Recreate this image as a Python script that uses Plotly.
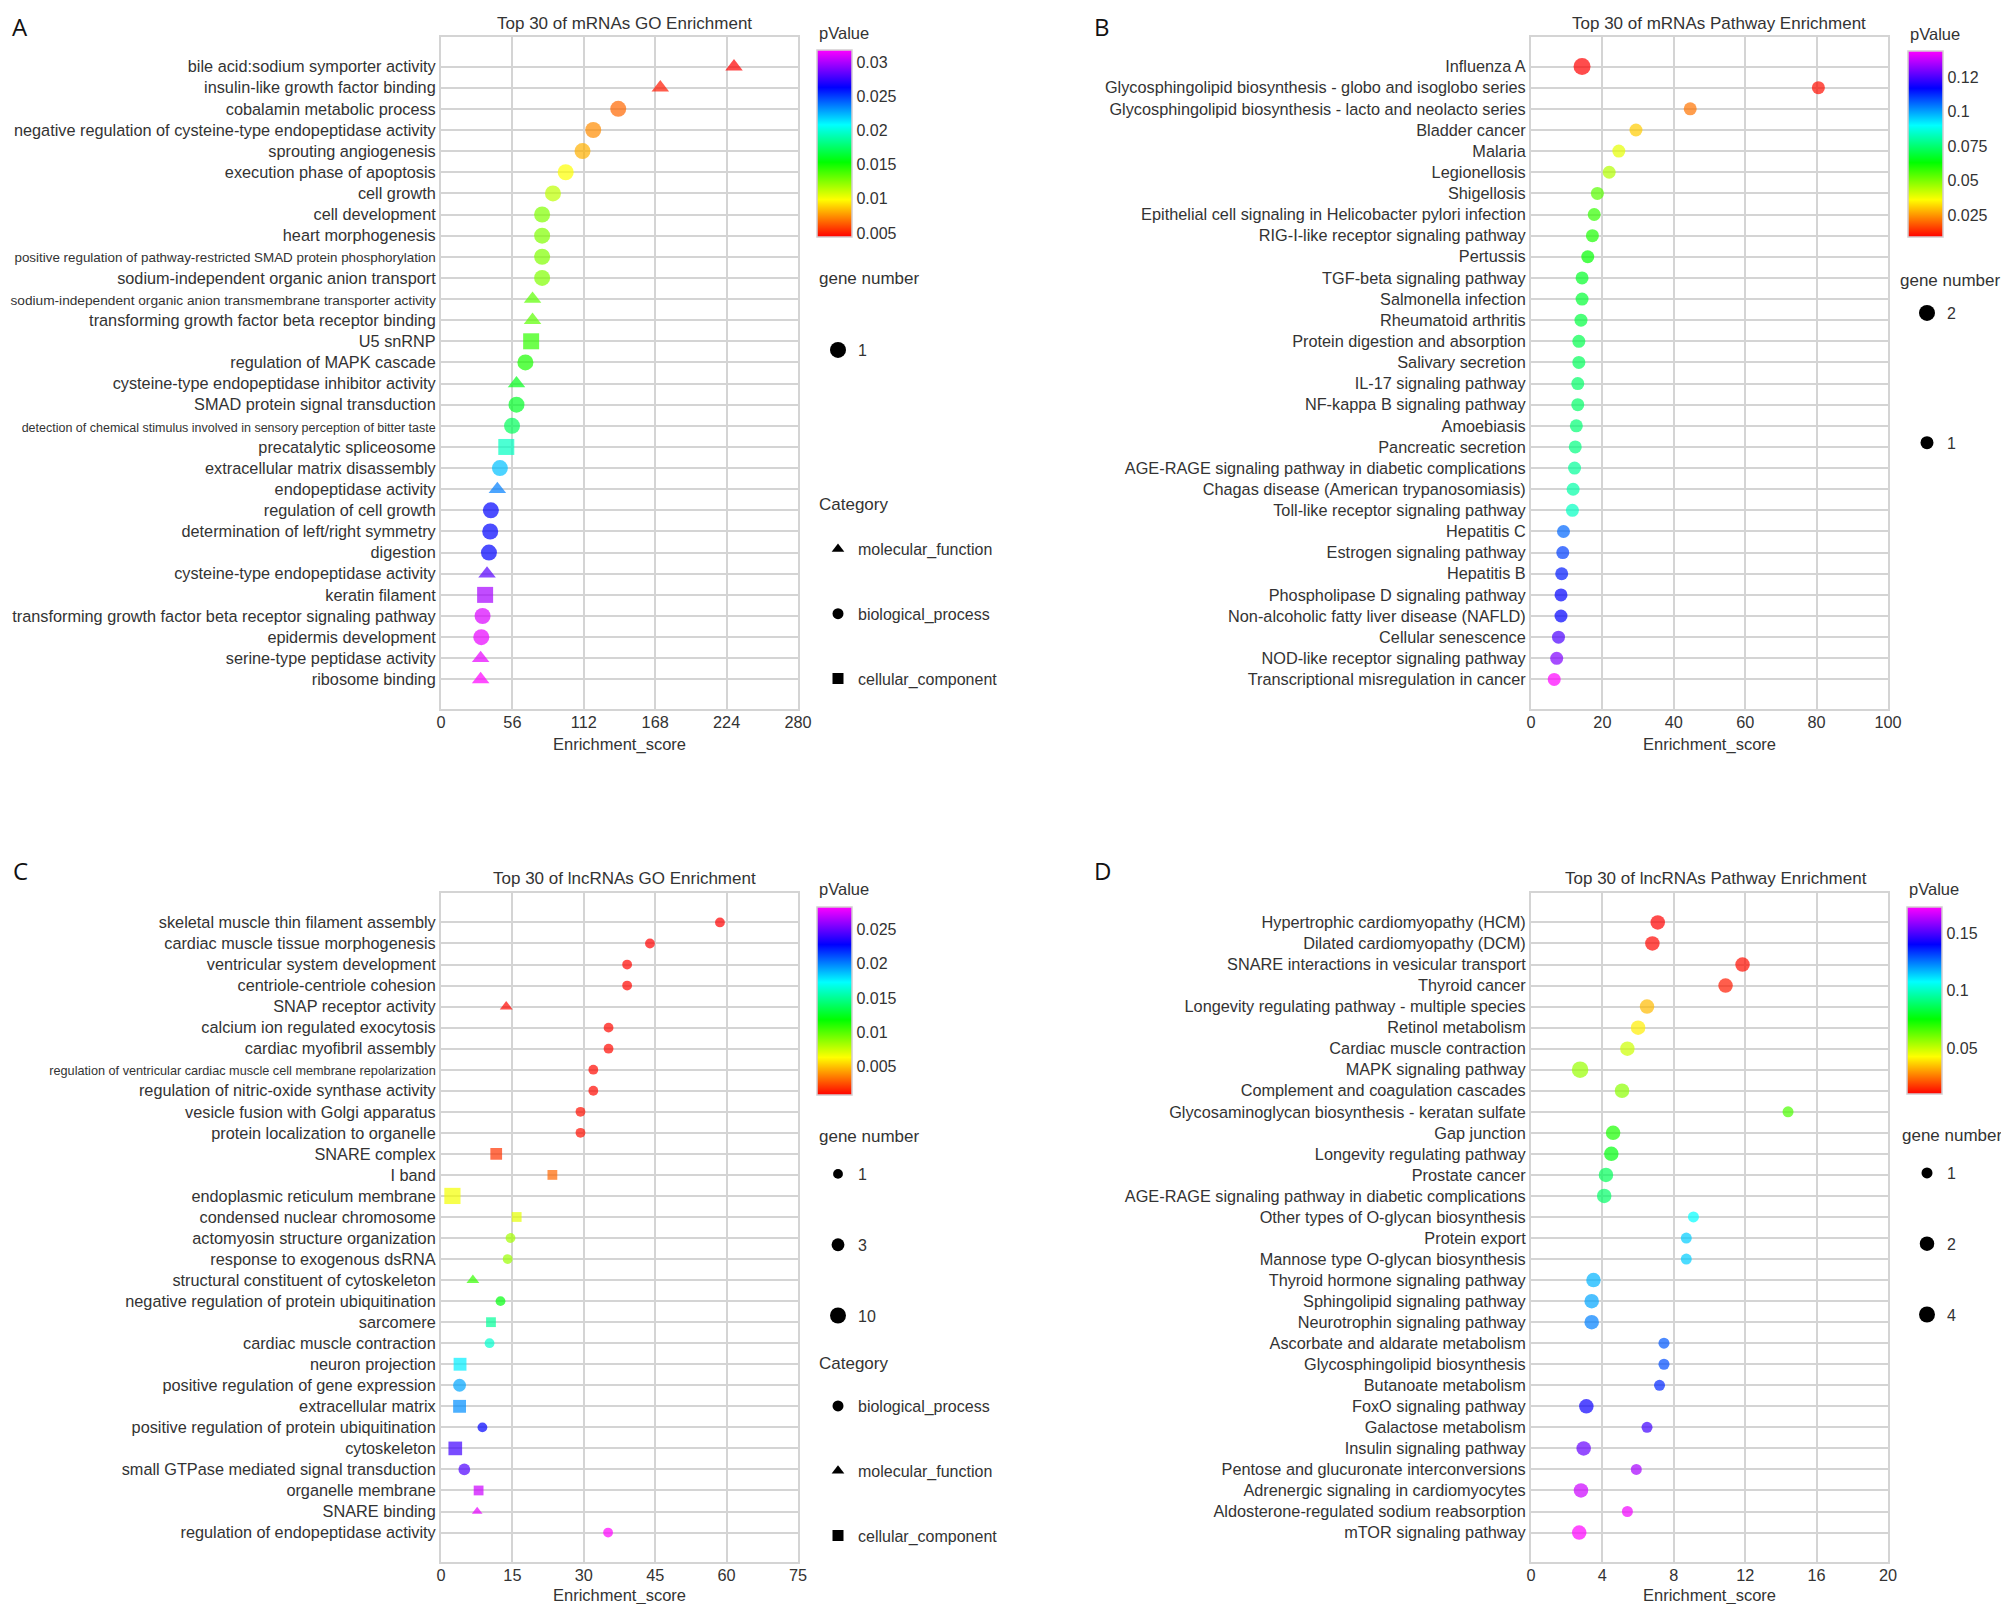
import math
import plotly.graph_objects as go

# ---------------- data ----------------
# A: top 30 of mRNAs GO enrichment
A_TERMS = [
    "bile acid:sodium symporter activity",
    "insulin-like growth factor binding",
    "cobalamin metabolic process",
    "negative regulation of cysteine-type endopeptidase activity",
    "sprouting angiogenesis",
    "execution phase of apoptosis",
    "cell growth",
    "cell development",
    "heart morphogenesis",
    "positive regulation of pathway-restricted SMAD protein phosphorylation",
    "sodium-independent organic anion transport",
    "sodium-independent organic anion transmembrane transporter activity",
    "transforming growth factor beta receptor binding",
    "U5 snRNP",
    "regulation of MAPK cascade",
    "cysteine-type endopeptidase inhibitor activity",
    "SMAD protein signal transduction",
    "detection of chemical stimulus involved in sensory perception of bitter taste",
    "precatalytic spliceosome",
    "extracellular matrix disassembly",
    "endopeptidase activity",
    "regulation of cell growth",
    "determination of left/right symmetry",
    "digestion",
    "cysteine-type endopeptidase activity",
    "keratin filament",
    "transforming growth factor beta receptor signaling pathway",
    "epidermis development",
    "serine-type peptidase activity",
    "ribosome binding",
]
A_CATEGORY = [
    "molecular_function", "molecular_function", "biological_process", "biological_process",
    "biological_process", "biological_process", "biological_process", "biological_process",
    "biological_process", "biological_process", "biological_process", "molecular_function",
    "molecular_function", "cellular_component", "biological_process", "molecular_function",
    "biological_process", "biological_process", "cellular_component", "biological_process",
    "molecular_function", "biological_process", "biological_process", "biological_process",
    "molecular_function", "cellular_component", "biological_process", "biological_process",
    "molecular_function", "molecular_function",
]
A_SCORE = [229.8, 172.0, 139.0, 119.4, 111.0, 97.8, 87.8, 79.3, 79.3, 79.3,
           79.3, 71.8, 71.8, 70.7, 66.2, 59.2, 59.2, 55.7, 51.2, 46.2,
           44.2, 39.1, 38.6, 37.6, 36.1, 34.6, 32.6, 31.6, 31.1, 31.1]
A_PVALUE = [0.0044, 0.0049, 0.0066, 0.0074, 0.0082, 0.0099, 0.0113, 0.0126, 0.0126, 0.0126,
            0.0126, 0.0134, 0.0134, 0.0143, 0.0148, 0.0159, 0.0162, 0.0173, 0.0195, 0.0222,
            0.0236, 0.0263, 0.0263, 0.0263, 0.0282, 0.0299, 0.0310, 0.0313, 0.0313, 0.0318]
A_GENES = [1, 1, 1, 1, 1, 1, 1, 1, 1, 1, 1, 1, 1, 1, 1,
           1, 1, 1, 1, 1, 1, 1, 1, 1, 1, 1, 1, 1, 1, 1]

# B: top 30 of mRNAs pathway enrichment
B_TERMS = [
    "Influenza A",
    "Glycosphingolipid biosynthesis - globo and isoglobo series",
    "Glycosphingolipid biosynthesis - lacto and neolacto series",
    "Bladder cancer",
    "Malaria",
    "Legionellosis",
    "Shigellosis",
    "Epithelial cell signaling in Helicobacter pylori infection",
    "RIG-I-like receptor signaling pathway",
    "Pertussis",
    "TGF-beta signaling pathway",
    "Salmonella infection",
    "Rheumatoid arthritis",
    "Protein digestion and absorption",
    "Salivary secretion",
    "IL-17 signaling pathway",
    "NF-kappa B signaling pathway",
    "Amoebiasis",
    "Pancreatic secretion",
    "AGE-RAGE signaling pathway in diabetic complications",
    "Chagas disease (American trypanosomiasis)",
    "Toll-like receptor signaling pathway",
    "Hepatitis C",
    "Estrogen signaling pathway",
    "Hepatitis B",
    "Phospholipase D signaling pathway",
    "Non-alcoholic fatty liver disease (NAFLD)",
    "Cellular senescence",
    "NOD-like receptor signaling pathway",
    "Transcriptional misregulation in cancer",
]
B_SCORE = [14.3, 80.5, 44.6, 29.4, 24.6, 21.9, 18.6, 17.7, 17.2, 15.9,
           14.3, 14.3, 14.0, 13.4, 13.4, 13.1, 13.1, 12.7, 12.4, 12.2,
           11.8, 11.6, 9.1, 8.9, 8.6, 8.4, 8.4, 7.7, 7.2, 6.5]
B_PVALUE = [0.0090, 0.0104, 0.0212, 0.0306, 0.0387, 0.0441, 0.0536, 0.0576, 0.0603, 0.0630,
            0.0671, 0.0684, 0.0698, 0.0711, 0.0725, 0.0738, 0.0738, 0.0752, 0.0765, 0.0792,
            0.0806, 0.0833, 0.1062, 0.1103, 0.1143, 0.1170, 0.1170, 0.1251, 0.1305, 0.1440]
B_GENES = [2, 1, 1, 1, 1, 1, 1, 1, 1, 1, 1, 1, 1, 1, 1,
           1, 1, 1, 1, 1, 1, 1, 1, 1, 1, 1, 1, 1, 1, 1]

# C: top 30 of lncRNAs GO enrichment
C_TERMS = [
    "skeletal muscle thin filament assembly",
    "cardiac muscle tissue morphogenesis",
    "ventricular system development",
    "centriole-centriole cohesion",
    "SNAP receptor activity",
    "calcium ion regulated exocytosis",
    "cardiac myofibril assembly",
    "regulation of ventricular cardiac muscle cell membrane repolarization",
    "regulation of nitric-oxide synthase activity",
    "vesicle fusion with Golgi apparatus",
    "protein localization to organelle",
    "SNARE complex",
    "I band",
    "endoplasmic reticulum membrane",
    "condensed nuclear chromosome",
    "actomyosin structure organization",
    "response to exogenous dsRNA",
    "structural constituent of cytoskeleton",
    "negative regulation of protein ubiquitination",
    "sarcomere",
    "cardiac muscle contraction",
    "neuron projection",
    "positive regulation of gene expression",
    "extracellular matrix",
    "positive regulation of protein ubiquitination",
    "cytoskeleton",
    "small GTPase mediated signal transduction",
    "organelle membrane",
    "SNARE binding",
    "regulation of endopeptidase activity",
]
C_CATEGORY = [
    "biological_process", "biological_process", "biological_process", "biological_process",
    "molecular_function", "biological_process", "biological_process", "biological_process",
    "biological_process", "biological_process", "biological_process", "cellular_component",
    "cellular_component", "cellular_component", "cellular_component", "biological_process",
    "biological_process", "molecular_function", "biological_process", "cellular_component",
    "biological_process", "cellular_component", "biological_process", "cellular_component",
    "biological_process", "cellular_component", "biological_process", "cellular_component",
    "molecular_function", "biological_process",
]
C_SCORE = [58.6, 43.9, 39.1, 39.1, 13.7, 35.2, 35.2, 32.0, 32.0, 29.3,
           29.3, 11.6, 23.4, 2.4, 15.9, 14.6, 14.0, 6.7, 12.5, 10.5,
           10.2, 4.0, 3.9, 3.9, 8.7, 3.0, 4.9, 7.9, 7.6, 35.1]
C_PVALUE = [0.0009, 0.0009, 0.0010, 0.0010, 0.0010, 0.0011, 0.0011, 0.0011, 0.0011, 0.0012,
            0.0012, 0.0020, 0.0031, 0.0066, 0.0069, 0.0083, 0.0085, 0.0107, 0.0121, 0.0151,
            0.0162, 0.0176, 0.0192, 0.0197, 0.0227, 0.0241, 0.0244, 0.0271, 0.0277, 0.0282]
C_GENES = [1, 1, 1, 1, 2, 1, 1, 1, 1, 1, 1, 2, 1, 10, 1,
           1, 1, 2, 1, 1, 1, 3, 3, 3, 1, 4, 2, 1, 1, 1]

# D: top 30 of lncRNAs pathway enrichment
D_TERMS = [
    "Hypertrophic cardiomyopathy (HCM)",
    "Dilated cardiomyopathy (DCM)",
    "SNARE interactions in vesicular transport",
    "Thyroid cancer",
    "Longevity regulating pathway - multiple species",
    "Retinol metabolism",
    "Cardiac muscle contraction",
    "MAPK signaling pathway",
    "Complement and coagulation cascades",
    "Glycosaminoglycan biosynthesis - keratan sulfate",
    "Gap junction",
    "Longevity regulating pathway",
    "Prostate cancer",
    "AGE-RAGE signaling pathway in diabetic complications",
    "Other types of O-glycan biosynthesis",
    "Protein export",
    "Mannose type O-glycan biosynthesis",
    "Thyroid hormone signaling pathway",
    "Sphingolipid signaling pathway",
    "Neurotrophin signaling pathway",
    "Ascorbate and aldarate metabolism",
    "Glycosphingolipid biosynthesis",
    "Butanoate metabolism",
    "FoxO signaling pathway",
    "Galactose metabolism",
    "Insulin signaling pathway",
    "Pentose and glucuronate interconversions",
    "Adrenergic signaling in cardiomyocytes",
    "Aldosterone-regulated sodium reabsorption",
    "mTOR signaling pathway",
]
D_SCORE = [7.1, 6.8, 11.85, 10.9, 6.5, 6.0, 5.4, 2.75, 5.1, 14.4,
           4.6, 4.5, 4.2, 4.1, 9.1, 8.7, 8.7, 3.5, 3.4, 3.4,
           7.45, 7.45, 7.2, 3.1, 6.5, 2.95, 5.9, 2.8, 5.4, 2.7]
D_PVALUE = [0.0100, 0.0108, 0.0116, 0.0133, 0.0339, 0.0404, 0.0490, 0.0555, 0.0572, 0.0653,
            0.0718, 0.0767, 0.0864, 0.0880, 0.1076, 0.1140, 0.1140, 0.1173, 0.1190, 0.1238,
            0.1287, 0.1303, 0.1352, 0.1417, 0.1482, 0.1531, 0.1612, 0.1661, 0.1710, 0.1726]
D_GENES = [2, 2, 2, 2, 2, 2, 2, 3, 2, 1, 2, 2, 2, 2, 1,
           1, 1, 2, 2, 2, 1, 1, 1, 2, 1, 2, 1, 2, 1, 2]

# colorbar ticks
A_PV_TICKS = [0.005, 0.01, 0.015, 0.02, 0.025, 0.03]
A_PV_TEXT = ["0.005", "0.01", "0.015", "0.02", "0.025", "0.03"]
B_PV_TICKS = [0.025, 0.05, 0.075, 0.1, 0.125]
B_PV_TEXT = ["0.025", "0.05", "0.075", "0.1", "0.12"]
C_PV_TICKS = [0.005, 0.01, 0.015, 0.02, 0.025]
C_PV_TEXT = ["0.005", "0.01", "0.015", "0.02", "0.025"]
D_PV_TICKS = [0.05, 0.1, 0.15]
D_PV_TEXT = ["0.05", "0.1", "0.15"]

# legend entries
A_SIZE_BREAKS = [1]
B_SIZE_BREAKS = [2, 1]
C_SIZE_BREAKS = [1, 3, 10]
D_SIZE_BREAKS = [1, 2, 4]
A_CAT_ORDER = ["molecular_function", "biological_process", "cellular_component"]
C_CAT_ORDER = ["biological_process", "molecular_function", "cellular_component"]

# ---------------- style ----------------
W, H, OFF = 1993, 1596, 8   # figure size; the page body adds an 8px margin


def fx(p):
    return (p - OFF) / W


def fy(p):
    return 1 - (p - OFF) / H


RAINBOW = [[0, "#FF0000"], [0.2, "#FFFF00"], [0.4, "#00FF00"],
           [0.6, "#00FFFF"], [0.8, "#0000FF"], [1, "#FF00FF"]]
SYMBOLS = {"molecular_function": "triangle-up", "biological_process": "circle",
           "cellular_component": "square"}
FONT = "Liberation Sans, Arial, sans-serif"
TXT = "#333333"
GRID = "#d4d4d4"
LABEL_SIZE = 16.3
SMALL_LABELS = {
    "positive regulation of pathway-restricted SMAD protein phosphorylation": 13.4,
    "sodium-independent organic anion transmembrane transporter activity": 13.7,
    "detection of chemical stimulus involved in sensory perception of bitter taste": 12.5,
    "regulation of ventricular cardiac muscle cell membrane repolarization": 12.7,
}

SIZE_FUNC = {
    "A": lambda g: 16,
    "B": lambda g: 13 + 4 * math.log2(g),
    "C": lambda g: 9.8 + 6.4 * math.log10(g),
    "D": lambda g: 11 + 3.5 * math.log2(g),
}

panels = [
    dict(key="A", title="Top 30 of mRNAs GO Enrichment", terms=A_TERMS, cat=A_CATEGORY,
         score=A_SCORE, pval=A_PVALUE, genes=A_GENES, xmax=280, dtick=56,
         pv=(0.0044, 0.0318), pvt=(A_PV_TICKS, A_PV_TEXT),
         box=(441, 798, 37, 709), cbar=(817, 50, 187), pvlab=(817, 33),
         letter=(20, 27), ttl=(624, 23), xtitle_y=744,
         breaks=A_SIZE_BREAKS, gene_ttl=(817, 278), gene_leg=(838, 347, 48),
         cats=A_CAT_ORDER, cat_ttl=(817, 504), cat_leg=(838, 546, 41)),
    dict(key="B", title="Top 30 of mRNAs Pathway Enrichment", terms=B_TERMS, cat=None,
         score=B_SCORE, pval=B_PVALUE, genes=B_GENES, xmax=100, dtick=20,
         pv=(0.009, 0.144), pvt=(B_PV_TICKS, B_PV_TEXT),
         box=(1531, 1888, 37, 709), cbar=(1908, 51, 186), pvlab=(1908, 34),
         letter=(1102, 27), ttl=(1719, 23), xtitle_y=744,
         breaks=B_SIZE_BREAKS, gene_ttl=(1898, 280), gene_leg=(1927, 310, 106),
         cats=None, cat_ttl=None, cat_leg=None),
    dict(key="C", title="Top 30 of lncRNAs GO Enrichment", terms=C_TERMS, cat=C_CATEGORY,
         score=C_SCORE, pval=C_PVALUE, genes=C_GENES, xmax=75, dtick=15,
         pv=(0.0009, 0.0282), pvt=(C_PV_TICKS, C_PV_TEXT),
         box=(441, 798, 893, 1562), cbar=(817, 907, 188), pvlab=(817, 889),
         letter=(20, 870), ttl=(624, 878), xtitle_y=1595,
         breaks=C_SIZE_BREAKS, gene_ttl=(817, 1136), gene_leg=(838, 1171, 47),
         cats=C_CAT_ORDER, cat_ttl=(817, 1363), cat_leg=(838, 1403, 41)),
    dict(key="D", title="Top 30 of lncRNAs Pathway Enrichment", terms=D_TERMS, cat=None,
         score=D_SCORE, pval=D_PVALUE, genes=D_GENES, xmax=20, dtick=4,
         pv=(0.010, 0.1726), pvt=(D_PV_TICKS, D_PV_TEXT),
         box=(1531, 1888, 893, 1562), cbar=(1907, 907, 187), pvlab=(1907, 889),
         letter=(1102, 870), ttl=(1716, 878), xtitle_y=1595,
         breaks=D_SIZE_BREAKS, gene_ttl=(1900, 1135), gene_leg=(1927, 1170, 47),
         cats=None, cat_ttl=None, cat_leg=None),
]

fig = go.Figure()
annotations = []
layout = {}
leg_n = 0


def next_legend():
    global leg_n
    leg_n += 1
    return "legend" if leg_n == 1 else "legend%d" % leg_n


def text_ann(text, x, y, size, xanchor="left", family=FONT, color=TXT):
    return dict(text=text, x=fx(x), y=fy(y), xref="paper", yref="paper", showarrow=False,
                xanchor=xanchor, yanchor="middle", font=dict(family=family, size=size, color=color))


def legend_box(marker_x, first_y, gap):
    # marker centre sits ~20px right of the legend edge, first row ~14px below its top
    return dict(x=fx(marker_x - 20), y=fy(first_y - 14), xanchor="left", yanchor="top",
                bgcolor="rgba(0,0,0,0)", borderwidth=0, tracegroupgap=gap,
                traceorder="grouped", itemsizing="trace",
                font=dict(family=FONT, size=16, color=TXT))


for i, p in enumerate(panels, start=1):
    xa = "x" if i == 1 else "x%d" % i
    ya = "y" if i == 1 else "y%d" % i
    x0, x1, y0, y1 = p["box"]
    n = len(p["terms"])
    cats = p["cat"] if p["cat"] else ["biological_process"] * n
    size_of = SIZE_FUNC[p["key"]]
    sizes, symbols = [], []
    for g, c in zip(p["genes"], cats):
        s = size_of(g)
        if c == "molecular_function":
            s *= 0.95
        sizes.append(s)
        symbols.append(SYMBOLS[c])

    cx, ctop, clen = p["cbar"]
    fig.add_trace(go.Scatter(
        x=p["score"], y=p["terms"], mode="markers", xaxis=xa, yaxis=ya,
        showlegend=False, hoverinfo="x+y",
        marker=dict(color=p["pval"], colorscale=RAINBOW, cmin=p["pv"][0], cmax=p["pv"][1],
                    size=sizes, symbol=symbols, line=dict(width=0), showscale=True,
                    colorbar=dict(x=fx(cx), xanchor="left", xpad=0, y=fy(ctop), yanchor="top",
                                  ypad=0, len=clen, lenmode="pixels", thickness=35,
                                  thicknessmode="pixels", outlinewidth=1.5, outlinecolor="#d2cdd0",
                                  ticks="", tickvals=p["pvt"][0], ticktext=p["pvt"][1],
                                  tickfont=dict(family=FONT, size=16, color=TXT))),
    ))

    ticktext = []
    for t in p["terms"]:
        if t in SMALL_LABELS:
            ticktext.append('<span style="font-size:%spx">%s</span>' % (SMALL_LABELS[t], t))
        else:
            ticktext.append(t)

    layout["xaxis" if i == 1 else "xaxis%d" % i] = dict(
        domain=[fx(x0), fx(x1)], anchor=ya, range=[0, p["xmax"]], tick0=0, dtick=p["dtick"],
        showgrid=True, gridcolor=GRID, gridwidth=1.5, zeroline=False, ticks="",
        ticklabelstandoff=-3,
        showline=True, mirror=True, linecolor=GRID, linewidth=2,
        tickfont=dict(family=FONT, size=16.3, color=TXT), automargin=False, fixedrange=True)
    layout["yaxis" if i == 1 else "yaxis%d" % i] = dict(
        domain=[fy(y1), fy(y0)], anchor=xa, type="category", categoryorder="array",
        categoryarray=p["terms"], range=[n - 1 + 1.4, -1.4],
        tickvals=p["terms"], ticktext=ticktext, ticks="",
        showgrid=True, gridcolor=GRID, gridwidth=1.5, zeroline=False,
        showline=True, mirror=True, linecolor=GRID, linewidth=2,
        tickfont=dict(family=FONT, size=LABEL_SIZE, color=TXT), automargin=False, fixedrange=True)

    # texts
    annotations.append(text_ann(p["key"], p["letter"][0], p["letter"][1], 24, "center",
                                family="Open Sans", color="#111111"))
    annotations.append(text_ann(p["title"], p["ttl"][0], p["ttl"][1], 17, "center"))
    annotations.append(text_ann("Enrichment_score", (x0 + x1) / 2, p["xtitle_y"], 16.5, "center"))
    annotations.append(text_ann("pValue", p["pvlab"][0], p["pvlab"][1], 16.5))
    annotations.append(text_ann("gene number", p["gene_ttl"][0], p["gene_ttl"][1], 17))

    # gene number legend
    lg = next_legend()
    layout[lg] = legend_box(*p["gene_leg"])
    for g in p["breaks"]:
        fig.add_trace(go.Scatter(x=[None], y=[None], mode="markers", xaxis=xa, yaxis=ya,
                                 name=str(g), legend=lg, legendgroup="%s_g%s" % (p["key"], g),
                                 marker=dict(size=size_of(g), color="black", symbol="circle")))

    # category legend
    if p["cats"]:
        annotations.append(text_ann("Category", p["cat_ttl"][0], p["cat_ttl"][1], 17))
        lg = next_legend()
        layout[lg] = legend_box(*p["cat_leg"])
        for c in p["cats"]:
            fig.add_trace(go.Scatter(x=[None], y=[None], mode="markers", xaxis=xa, yaxis=ya,
                                     name=c, legend=lg, legendgroup="%s_%s" % (p["key"], c),
                                     marker=dict(size=11, color="black", symbol=SYMBOLS[c])))

fig.update_layout(
    template="none", width=W, height=H,
    margin=dict(l=0, r=0, t=0, b=0, autoexpand=False),
    paper_bgcolor="white", plot_bgcolor="white", annotations=annotations,
    hovermode="closest", **layout)

fig.write_html("out.html")
